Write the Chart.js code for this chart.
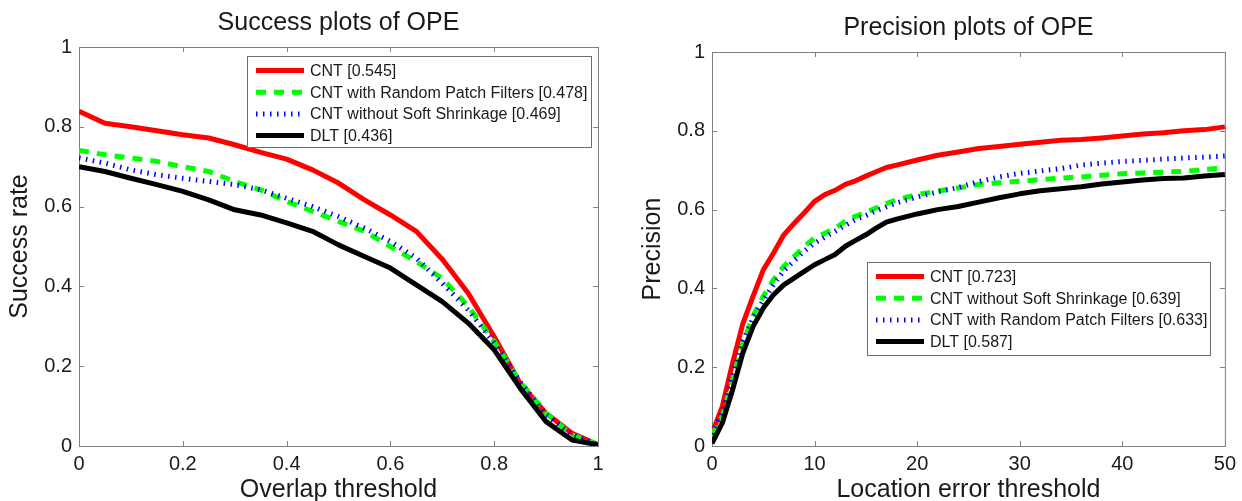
<!DOCTYPE html>
<html>
<head>
<meta charset="utf-8">
<script src="https://cdn.jsdelivr.net/npm/chart.js@4"></script>
<style>
  html, body { margin: 0; padding: 0; background: #fff; }
  #wrap { position: relative; width: 1242px; height: 501px; overflow: hidden; }
  .box { position: absolute; top: 0; height: 501px; }
  #leftBox { left: 0; width: 621px; }
  #rightBox { left: 621px; width: 621px; }
</style>
</head>
<body>
<div id="wrap">
  <div class="box" id="leftBox"><canvas id="success"></canvas></div>
  <div class="box" id="rightBox"><canvas id="precision"></canvas></div>
</div>
<script>
// ---- success plot data (overlap threshold) ----
const successX = [0, 0.05, 0.1, 0.15, 0.2, 0.25, 0.3, 0.35, 0.4, 0.45, 0.5,
                  0.55, 0.6, 0.65, 0.7, 0.75, 0.8, 0.85, 0.9, 0.95, 1];
const successCNT = [0.839, 0.809, 0.800, 0.790, 0.780, 0.772, 0.755, 0.736, 0.719, 0.692, 0.659,
                    0.617, 0.579, 0.538, 0.468, 0.383, 0.274, 0.157, 0.082, 0.032, 0.003];
const successRandom = [0.741, 0.730, 0.722, 0.713, 0.700, 0.688, 0.663, 0.642, 0.613, 0.588, 0.563,
                       0.538, 0.500, 0.462, 0.420, 0.350, 0.262, 0.161, 0.082, 0.028, 0.003];
const successNoShrink = [0.722, 0.709, 0.692, 0.680, 0.671, 0.663, 0.655, 0.642, 0.621, 0.600, 0.575,
                         0.546, 0.513, 0.471, 0.408, 0.341, 0.258, 0.161, 0.078, 0.028, 0.003];
const successDLT = [0.700, 0.688, 0.671, 0.655, 0.638, 0.617, 0.592, 0.579, 0.559, 0.538, 0.504,
                    0.475, 0.446, 0.404, 0.362, 0.308, 0.241, 0.145, 0.061, 0.015, 0.003];
const successLabels = ['CNT [0.545]', 'CNT with Random Patch Filters [0.478]',
                       'CNT without Soft Shrinkage [0.469]', 'DLT [0.436]'];

// ---- precision plot data (location error threshold) ----
const precisionX = [0, 1, 2, 3, 4, 5, 6, 7, 8, 9, 10, 11, 12, 13, 14, 15, 16, 17, 18,
                    20, 22, 24, 26, 28, 30, 32, 34, 36, 38, 40, 42, 44, 46, 48, 50];
const precisionCNT = [0.032, 0.100, 0.210, 0.310, 0.380, 0.447, 0.490, 0.536, 0.565, 0.592, 0.621,
                      0.638, 0.649, 0.664, 0.673, 0.685, 0.696, 0.707, 0.713,
                      0.726, 0.738, 0.746, 0.755, 0.760, 0.766, 0.771, 0.776, 0.778, 0.782,
                      0.787, 0.792, 0.795, 0.800, 0.803, 0.810];
const precisionNoShrink = [0.028, 0.075, 0.168, 0.260, 0.330, 0.380, 0.422, 0.456, 0.481, 0.507, 0.528,
                           0.540, 0.553, 0.570, 0.583, 0.593, 0.604, 0.615, 0.625,
                           0.638, 0.647, 0.655, 0.664, 0.668, 0.672, 0.676, 0.680, 0.683, 0.687,
                           0.691, 0.693, 0.695, 0.697, 0.702, 0.706];
const precisionRandom = [0.030, 0.085, 0.180, 0.265, 0.325, 0.370, 0.410, 0.445, 0.470, 0.495, 0.515,
                         0.530, 0.545, 0.560, 0.575, 0.585, 0.597, 0.607, 0.617,
                         0.632, 0.645, 0.656, 0.671, 0.683, 0.692, 0.698, 0.704, 0.713, 0.718,
                         0.722, 0.725, 0.728, 0.731, 0.733, 0.736];
const precisionDLT = [0.007, 0.058, 0.142, 0.236, 0.303, 0.350, 0.384, 0.409, 0.426, 0.443, 0.460,
                      0.473, 0.486, 0.507, 0.522, 0.536, 0.553, 0.568, 0.576,
                      0.589, 0.600, 0.608, 0.619, 0.630, 0.640, 0.648, 0.653, 0.658, 0.665,
                      0.670, 0.675, 0.679, 0.680, 0.685, 0.689];
const precisionLabels = ['CNT [0.723]', 'CNT without Soft Shrinkage [0.639]',
                         'CNT with Random Patch Filters [0.633]', 'DLT [0.587]'];

const FONT = '"Liberation Sans", Arial, Helvetica, sans-serif';
const AXIS_GRAY = '#808080';
const TEXT = '#1a1a1a';

const styles = {
  red:   { color: '#ff0000', width: 5, dash: [] },
  green: { color: '#00ff00', width: 5, dash: [10, 8] },
  blue:  { color: '#0000ff', width: 5, dash: [1.5, 5.5] },
  black: { color: '#000000', width: 5, dash: [] }
};

function pts(xs, ys) {
  return xs.map((x, i) => ({ x: x, y: ys[i] }));
}

// matlab style tick text: 0, 0.2, ..., 1
function tickText(v) {
  return String(Number(v.toFixed(2)));
}

function makeDataset(label, xs, ys, st, order) {
  return {
    label: label,
    data: pts(xs, ys),
    borderColor: st.color,
    borderWidth: st.width,
    borderDash: st.dash,
    borderCapStyle: 'butt',
    borderJoinStyle: 'round',
    pointRadius: 0,
    tension: 0,
    fill: false,
    order: order
  };
}

// frame on all four sides + inward ticks, MATLAB style
const framePlugin = {
  id: 'frame',
  beforeDatasetsDraw(chart) {
    const { ctx, chartArea: a, scales } = chart;
    ctx.save();
    ctx.strokeStyle = AXIS_GRAY;
    ctx.lineWidth = 1;
    ctx.strokeRect(a.left + 0.5, a.top + 0.5, a.right - a.left, a.bottom - a.top);
    ctx.beginPath();
    scales.x.ticks.forEach(t => {
      const px = Math.round(scales.x.getPixelForValue(t.value)) + 0.5;
      ctx.moveTo(px, a.bottom); ctx.lineTo(px, a.bottom - 5);
      ctx.moveTo(px, a.top); ctx.lineTo(px, a.top + 5);
    });
    scales.y.ticks.forEach(t => {
      const py = Math.round(scales.y.getPixelForValue(t.value)) + 0.5;
      ctx.moveTo(a.left, py); ctx.lineTo(a.left + 5, py);
      ctx.moveTo(a.right, py); ctx.lineTo(a.right - 5, py);
    });
    ctx.stroke();
    ctx.restore();
  }
};

// titles and axis titles
const textPlugin = {
  id: 'texts',
  afterDraw(chart, args, opts) {
    const { ctx, chartArea: a } = chart;
    const cx = (a.left + a.right) / 2;
    const cy = (a.top + a.bottom) / 2;
    ctx.save();
    ctx.fillStyle = TEXT;
    ctx.font = '25px ' + FONT;
    ctx.textAlign = 'center';
    ctx.textBaseline = 'alphabetic';
    ctx.fillText(opts.title, cx, opts.titleY);
    ctx.fillText(opts.xTitle, cx, 497);
    ctx.translate(a.left - 52, cy);
    ctx.rotate(-Math.PI / 2);
    ctx.fillText(opts.yTitle, 0, 0);
    ctx.restore();
  }
};

// boxed legend inside the plot
const legendPlugin = {
  id: 'boxLegend',
  afterDraw(chart, args, opts) {
    const { ctx, chartArea: a } = chart;
    const bx = a.left + opts.dx, by = a.top + opts.dy;
    ctx.save();
    ctx.fillStyle = '#ffffff';
    ctx.fillRect(bx, by, opts.w, opts.h);
    ctx.strokeStyle = '#6e6e6e';
    ctx.lineWidth = 1;
    ctx.strokeRect(bx + 0.5, by + 0.5, opts.w, opts.h);
    ctx.font = '16px ' + FONT;
    ctx.textBaseline = 'middle';
    ctx.textAlign = 'left';
    chart.data.datasets.forEach((ds, i) => {
      const y = by + 14.5 + i * 21.7;
      ctx.beginPath();
      ctx.strokeStyle = ds.borderColor;
      ctx.lineWidth = ds.borderWidth;
      ctx.lineCap = 'butt';
      ctx.setLineDash(ds.borderDash);
      ctx.moveTo(bx + 9, y);
      ctx.lineTo(bx + 57, y);
      ctx.stroke();
      ctx.setLineDash([]);
      ctx.fillStyle = TEXT;
      ctx.fillText(ds.label, bx + 63, y + 1);
    });
    ctx.restore();
  }
};

function buildChart(id, cfg) {
  return new Chart(document.getElementById(id), {
    type: 'line',
    data: { datasets: cfg.datasets },
    options: {
      responsive: true,
      maintainAspectRatio: false,
      animation: false,
      layout: { padding: { top: cfg.top, right: cfg.right, left: 0, bottom: 0 } },
      plugins: {
        legend: { display: false },
        tooltip: { enabled: false },
        texts: { title: cfg.title, titleY: cfg.titleY, xTitle: cfg.xTitle, yTitle: cfg.yTitle },
        boxLegend: cfg.legend
      },
      scales: {
        x: {
          type: 'linear', min: cfg.xMin, max: cfg.xMax,
          ticks: { stepSize: cfg.xStep, padding: 6, color: TEXT, font: { family: FONT, size: 20 }, maxRotation: 0, callback: tickText },
          grid: { display: true, drawOnChartArea: false, drawTicks: false },
          border: { display: true, color: AXIS_GRAY },
          afterFit(scale) { scale.height = 55; }
        },
        y: {
          type: 'linear', min: 0, max: 1,
          ticks: { stepSize: 0.2, padding: 7, color: TEXT, font: { family: FONT, size: 20 }, callback: tickText },
          grid: { display: true, drawOnChartArea: false, drawTicks: false },
          border: { display: true, color: AXIS_GRAY },
          afterFit(scale) { scale.width = cfg.yWidth; }
        }
      }
    },
    plugins: [framePlugin, textPlugin, legendPlugin]
  });
}

buildChart('success', {
  datasets: [
    makeDataset(successLabels[0], successX, successCNT, styles.red, 3),
    makeDataset(successLabels[1], successX, successRandom, styles.green, 2),
    makeDataset(successLabels[2], successX, successNoShrink, styles.blue, 1),
    makeDataset(successLabels[3], successX, successDLT, styles.black, 0)
  ],
  top: 47, right: 23, yWidth: 79,
  xMin: 0, xMax: 1, xStep: 0.2,
  title: 'Success plots of OPE', titleY: 30,
  xTitle: 'Overlap threshold', yTitle: 'Success rate',
  legend: { dx: 168, dy: 9, w: 344, h: 91 }
});

buildChart('precision', {
  datasets: [
    makeDataset(precisionLabels[0], precisionX, precisionCNT, styles.red, 3),
    makeDataset(precisionLabels[1], precisionX, precisionNoShrink, styles.green, 2),
    makeDataset(precisionLabels[2], precisionX, precisionRandom, styles.blue, 1),
    makeDataset(precisionLabels[3], precisionX, precisionDLT, styles.black, 0)
  ],
  top: 52, right: 15, yWidth: 91,
  xMin: 0, xMax: 50, xStep: 10,
  title: 'Precision plots of OPE', titleY: 35,
  xTitle: 'Location error threshold', yTitle: 'Precision',
  legend: { dx: 155, dy: 210, w: 343, h: 93 }
});
</script>
</body>
</html>
